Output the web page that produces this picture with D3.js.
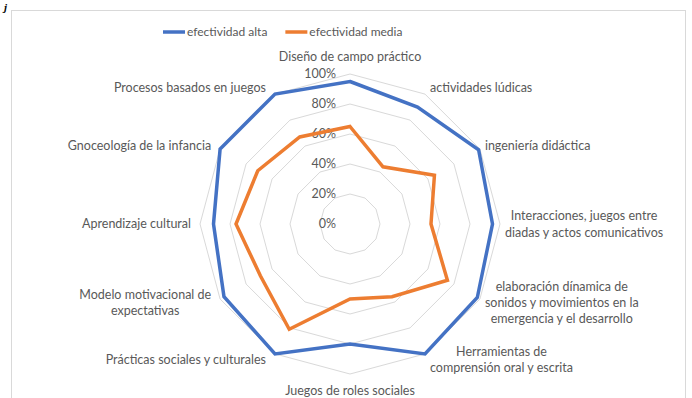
<!DOCTYPE html>
<html>
<head>
<meta charset="utf-8">
<script src="https://cdn.jsdelivr.net/npm/d3@7"></script>
<style>
  body { margin: 0; background: #fff; }
  svg { display: block; font-family: Lato, "Open Sans", sans-serif; }
  .axis-label { fill: #595959; font-size: 12.5px; }
  .tick-label { fill: #595959; font-size: 12.5px; }
  .legend-text { fill: #595959; font-size: 12px; }
</style>
</head>
<body>
<svg id="chart" width="692" height="398"></svg>
<script>
// categories (clockwise from top), line breaks as in the original
var categories = [
    ["Diseño de campo práctico"],
    ["actividades lúdicas"],
    ["ingeniería didáctica"],
    ["Interacciones, juegos entre", "diadas y actos comunicativos"],
    ["elaboración dínamica de", "sonidos y movimientos en la", "emergencia y el desarrollo"],
    ["Herramientas de", "comprensión oral y escrita"],
    ["Juegos de roles sociales"],
    ["Prácticas sociales y culturales"],
    ["Modelo motivacional de", "expectativas"],
    ["Aprendizaje cultural"],
    ["Gnoceología de la infancia"],
    ["Procesos basados en juegos"]
]
var alta  = [0.95, 0.90, 0.99, 0.95, 0.98, 1.00, 0.80, 1.00, 0.97, 0.91, 1.00, 1.00]
var media = [0.65, 0.44, 0.65, 0.54, 0.75, 0.56, 0.50, 0.81, 0.69, 0.76, 0.71, 0.67]
var seriesNames = ["efectividad alta", "efectividad media"]
var ticks = [0, 0.2, 0.4, 0.6, 0.8, 1.0]

var colors = d3.scaleOrdinal()
    .domain(seriesNames)
    .range(["#4472C4", "#ED7D31"])

var svg = d3.select("#chart")
var cx = 350, cy = 224, radius = 150

// chart frame + stray glyph from the cropped document
svg.append("rect")
    .attr("x", 11.5).attr("y", 10.5)
    .attr("width", 674).attr("height", 400)
    .attr("fill", "none").attr("stroke", "#d9d9d9")
svg.append("text")
    .attr("x", 4).attr("y", 11)
    .attr("font-style", "italic").attr("font-weight", "bold")
    .attr("font-size", 11).attr("font-family", "Liberation Serif")
    .text("j")

var r = d3.scaleLinear().domain([0, 1]).range([0, radius])
var angle = d3.scaleLinear().domain([0, categories.length]).range([0, 2 * Math.PI])

var g = svg.append("g").attr("transform", "translate(" + cx + "," + cy + ")")

// grid polygons
var ring = d3.lineRadial()
    .angle((d, i) => angle(i))
    .radius(d => r(d))
    .curve(d3.curveLinearClosed)

g.append("g").selectAll("path")
    .data(ticks.filter(t => t > 0))
    .join("path")
    .attr("d", t => ring(categories.map(() => t)))
    .attr("fill", "none")
    .attr("stroke", "#d9d9d9")
    .attr("stroke-width", 1)

// tick labels
g.append("g").selectAll("text")
    .data(ticks)
    .join("text")
    .attr("class", "tick-label")
    .attr("x", -14)
    .attr("y", t => -r(t))
    .attr("dy", "0.35em")
    .attr("text-anchor", "end")
    .text(d3.format(".0%"))

// series
var series = [
    { name: seriesNames[0], values: alta },
    { name: seriesNames[1], values: media }
]
g.append("g").selectAll("path")
    .data(series)
    .join("path")
    .attr("d", s => ring(s.values))
    .attr("fill", "none")
    .attr("stroke", s => colors(s.name))
    .attr("stroke-width", 3.5)
    .attr("stroke-linejoin", "miter")

// category labels
var lineH = 16.3
var labels = g.append("g")
categories.forEach(function(lines, i) {
    var a = angle(i)
    var sx = Math.sin(a), cyy = -Math.cos(a)
    var vx = sx * radius, vy = cyy * radius
    var t = labels.append("text").attr("class", "axis-label")
    lines.forEach(function(l) { t.append("tspan").text(l) })
    var widths = []
    t.selectAll("tspan").each(function() { widths.push(this.getComputedTextLength()) })
    var maxW = d3.max(widths)
    var x0, yc
    if (Math.abs(sx) < 0.01) {
        x0 = vx - maxW / 2
        yc = vy + (cyy < 0 ? -17 : 17)
    } else if (sx > 0) {
        x0 = vx + 5
        yc = vy + cyy * 7
    } else {
        x0 = vx - 9 - maxW
        yc = vy + cyy * 7
    }
    var top = yc - (lines.length - 1) * lineH / 2
    t.selectAll("tspan")
        .attr("x", x0 + maxW / 2)
        .attr("y", (d, j) => top + j * lineH)
        .attr("dy", "0.35em")
        .attr("text-anchor", "middle")
})

// legend
var legend = svg.append("g").attr("transform", "translate(0,32)")
var lx = 163
series.forEach(function(s) {
    var lg = legend.append("g").attr("transform", "translate(" + lx + ",0)")
    lg.append("line")
        .attr("x1", 0).attr("x2", 22)
        .attr("stroke", colors(s.name))
        .attr("stroke-width", 3.5)
    var tx = lg.append("text")
        .attr("class", "legend-text")
        .attr("x", 24)
        .attr("dy", "0.35em")
        .text(s.name)
    lx += 24 + tx.node().getComputedTextLength() + 18
})
</script>
</body>
</html>
